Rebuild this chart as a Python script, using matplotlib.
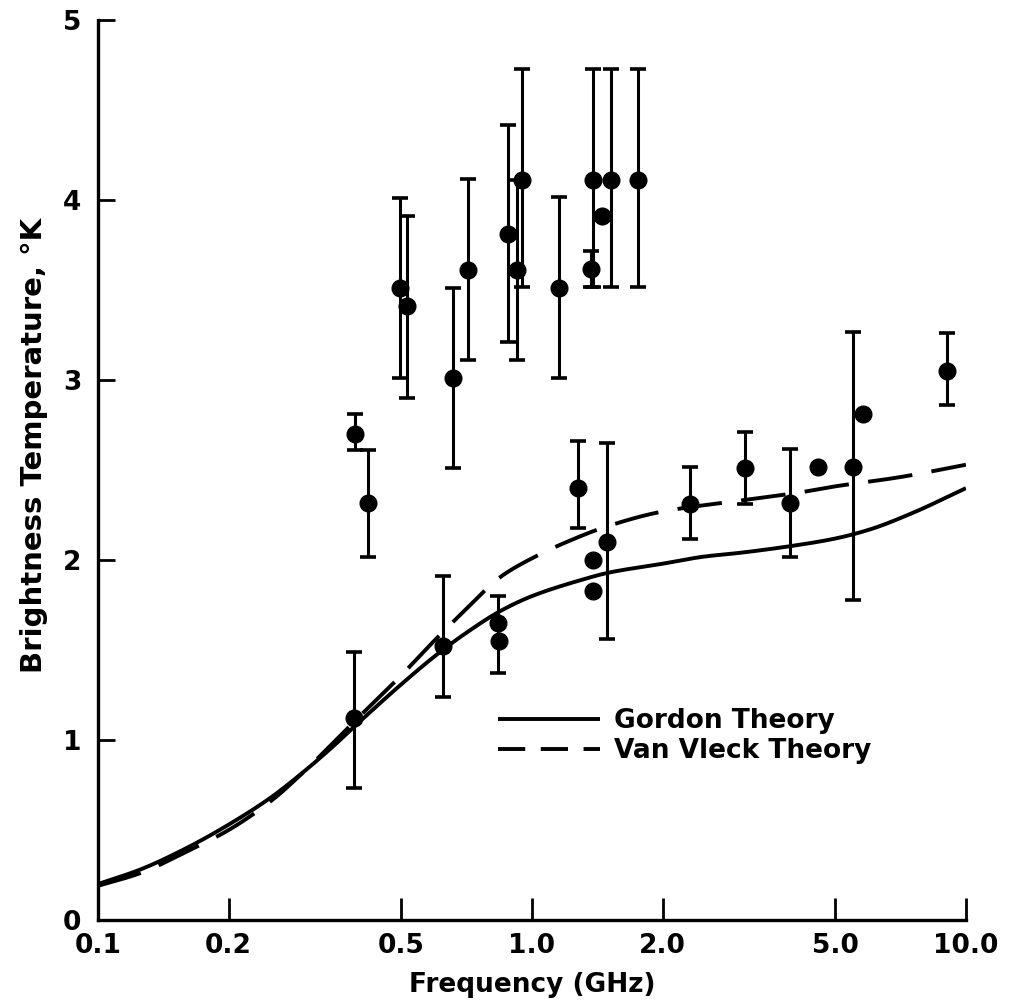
import matplotlib
matplotlib.use("Agg")
import matplotlib.pyplot as plt
from matplotlib.lines import Line2D
import numpy as np

# ---- data ----
# measurements with error bars: frequency (GHz), temperature (K), lower, upper
freq_err = [0.391, 0.419, 0.389, 0.496, 0.515, 0.658, 0.712, 0.880, 0.948, 0.926,
            1.153, 1.38, 1.52, 1.76, 1.37, 1.28, 1.49, 0.835, 0.624,
            2.31, 3.10, 3.93, 5.49, 9.04]
temp_err = [2.70, 2.32, 1.12, 3.51, 3.41, 3.01, 3.61, 3.81, 4.11, 3.61,
            3.51, 4.11, 4.11, 4.11, 3.62, 2.40, 2.10, 1.65, 1.52,
            2.31, 2.51, 2.32, 2.52, 3.05]
temp_lo = [2.61, 2.02, 0.735, 3.01, 2.90, 2.51, 3.11, 3.21, 3.52, 3.11,
           3.01, 3.52, 3.52, 3.52, 3.52, 2.18, 1.56, 1.37, 1.24,
           2.12, 2.31, 2.02, 1.78, 2.86]
temp_hi = [2.81, 2.61, 1.49, 4.01, 3.91, 3.51, 4.12, 4.42, 4.73, 4.11,
           4.02, 4.73, 4.73, 4.73, 3.72, 2.66, 2.65, 1.80, 1.91,
           2.52, 2.71, 2.62, 3.27, 3.26]

# measurements without error bars
freq_pt = [1.45, 1.38, 1.38, 0.84, 4.56, 5.79]
temp_pt = [3.91, 2.00, 1.83, 1.55, 2.52, 2.81]

# theory curves
gordon_f = [0.10, 0.125, 0.16, 0.20, 0.25, 0.30, 0.35, 0.40, 0.50, 0.60, 0.70,
            0.85, 1.0, 1.3, 1.5, 2.0, 2.5, 3.0, 4.0, 5.0, 6.0, 7.5, 10.0]
gordon_t = [0.20, 0.28, 0.40, 0.53, 0.68, 0.83, 0.97, 1.10, 1.31, 1.47, 1.59,
            1.72, 1.80, 1.89, 1.93, 1.98, 2.02, 2.04, 2.08, 2.12, 2.17, 2.26, 2.40]
vleck_f = [0.10, 0.125, 0.16, 0.20, 0.25, 0.30, 0.35, 0.40, 0.50, 0.60, 0.70,
           0.85, 1.0, 1.2, 1.5, 2.0, 3.0, 4.0, 5.0, 7.0, 10.0]
vleck_t = [0.19, 0.26, 0.38, 0.50, 0.66, 0.83, 0.99, 1.13, 1.36, 1.56, 1.72,
           1.91, 2.01, 2.10, 2.19, 2.27, 2.33, 2.37, 2.41, 2.46, 2.53]

xticks = [0.1, 0.2, 0.5, 1.0, 2.0, 5.0, 10.0]
xticklabels = ["0.1", "0.2", "0.5", "1.0", "2.0", "5.0", "10.0"]
yticks = [0, 1, 2, 3, 4, 5]

# ---- figure ----
plt.rcParams['font.family'] = ['DejaVu Sans']
plt.rcParams['font.weight'] = 'bold'
fig = plt.figure(figsize=(10.14, 10.02), dpi=100)
ax = fig.add_axes([0.0966, 0.0818, 0.856, 0.898])

def smooth(fx, ty, n=400):
    x = np.log10(np.asarray(fx, float)); y = np.asarray(ty, float)
    xs = np.linspace(x[0], x[-1], n)
    h = np.diff(x); d = np.diff(y) / h
    m = np.zeros_like(y)
    m[0] = d[0]; m[-1] = d[-1]
    for i in range(1, len(y) - 1):
        if d[i-1] * d[i] <= 0:
            m[i] = 0
        else:
            w1 = 2*h[i] + h[i-1]; w2 = h[i] + 2*h[i-1]
            m[i] = (w1 + w2) / (w1/d[i-1] + w2/d[i])
    idx = np.clip(np.searchsorted(x, xs) - 1, 0, len(x) - 2)
    t = (xs - x[idx]) / h[idx]
    h00 = 2*t**3 - 3*t**2 + 1; h10 = t**3 - 2*t**2 + t
    h01 = -2*t**3 + 3*t**2; h11 = t**3 - t**2
    ys = h00*y[idx] + h10*h[idx]*m[idx] + h01*y[idx+1] + h11*h[idx]*m[idx+1]
    return 10**xs, ys

gx, gy = smooth(gordon_f, gordon_t)
vx, vy = smooth(vleck_f, vleck_t)
ax.plot(gx, gy, color='black', lw=2.8, solid_capstyle='butt', zorder=3)
ax.plot(vx, vy, color='black', lw=2.8, linestyle=(0, (11.5, 5)), dash_capstyle='butt', zorder=3)

te = np.array(temp_err)
yerr = [te - np.array(temp_lo), np.array(temp_hi) - te]
ax.errorbar(freq_err, temp_err, yerr=yerr, fmt='o', color='black', ms=12,
            elinewidth=2.2, capsize=5.5, capthick=2.6, zorder=4)
ax.plot(freq_pt, temp_pt, 'o', color='black', ms=12, zorder=4)

ax.set_xscale('log')
ax.set_xlim(0.1, 10.0)
ax.set_ylim(0, 5)
ax.set_xticks(xticks)
ax.set_xticklabels(xticklabels)
ax.xaxis.set_minor_locator(matplotlib.ticker.NullLocator())
ax.set_yticks(yticks)
ax.set_yticklabels([str(v) for v in yticks])

for s in ['top', 'right']:
    ax.spines[s].set_visible(False)
for s in ['left', 'bottom']:
    ax.spines[s].set_linewidth(2.4)

ax.tick_params(axis='x', direction='in', length=16, width=2, labelsize=19, pad=9)
ax.tick_params(axis='y', direction='in', length=12, width=2, labelsize=19, pad=12)

ax.set_xlabel('Frequency (GHz)', fontsize=19, fontweight='bold', labelpad=10)
ax.set_ylabel('Brightness Temperature, °K', fontsize=21, fontweight='bold', labelpad=16)
ax.yaxis.set_label_coords(-0.057, 0.527)

handles = [Line2D([], [], color='black', lw=2.8, solid_capstyle='butt'),
           Line2D([], [], color='black', lw=2.8, linestyle=(0, (7, 4)), dash_capstyle='butt')]
ax.legend(handles, ['Gordon Theory', 'Van Vleck Theory'], loc='upper left',
          bbox_to_anchor=(0.433, 0.262), frameon=False, fontsize=19,
          handlelength=3.9, handletextpad=0.5, labelspacing=0.15)

fig.savefig('out.png', dpi=100)
